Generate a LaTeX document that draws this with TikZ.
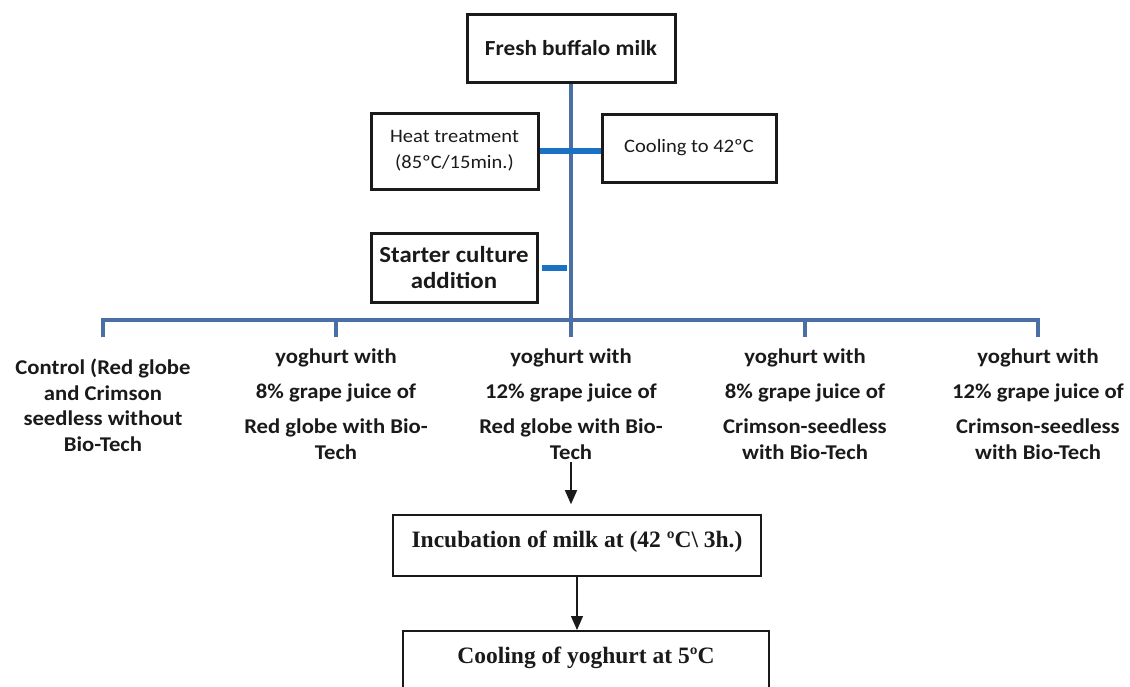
\documentclass[tikz,border=0pt]{standalone}
\usepackage{fontspec}
\setmainfont{Carlito}
\newfontfamily\calfont[FakeStretch=1.08]{Carlito}
\newfontfamily\timesfont{Liberation Serif}
\usetikzlibrary{arrows.meta, positioning, calc}
\definecolor{flowSteel}{HTML}{4A6FA5}
\definecolor{flowBlue}{HTML}{1A72C4}
\definecolor{flowInk}{HTML}{1A1A1A}

\begin{document}
\begin{tikzpicture}[x=1pt, y=-1pt,
  every node/.style={align=center, text=flowInk},
  stage/.style={draw=flowInk, line width=3pt, rectangle, inner sep=0pt},
  process/.style={draw=flowInk, line width=1.6pt, rectangle, inner sep=0pt,
    font=\timesfont\bfseries\fontsize{23.5}{28}\selectfont},
  trunk/.style={flowSteel, line width=4pt},
  tick/.style={flowBlue, line width=6pt},
  branch/.style={font=\calfont\bfseries\fontsize{21}{26}\selectfont, inner sep=0pt, anchor=north},
  flow/.style={-{Triangle[length=14pt,width=12pt]}, line width=1.3pt, flowInk}
]
  \useasboundingbox (0,0) rectangle (1130,686);
  \clip (0,0) rectangle (1130,686);

  \node[stage, minimum width=208, minimum height=68,
    font=\calfont\bfseries\fontsize{21.5}{26}\selectfont] (milk) at (571,48) {Fresh buffalo milk};
  \node[stage, minimum width=167, minimum height=76,
    font=\calfont\fontsize{19}{26}\selectfont] (heat) at (454.5,151) {Heat treatment\\(85ºC/15min.)};
  \node[stage, minimum width=174, minimum height=68,
    font=\calfont\fontsize{19}{26}\selectfont] (cool) at (689,148) {Cooling to 42ºC};
  \node[stage, minimum width=166, minimum height=69,
    font=\calfont\bfseries\fontsize{23}{26}\selectfont] (starter) at (454,268) {Starter culture\\addition};

  \coordinate (bus) at (571,320);
  \foreach \n/\x in {1/103,2/336,3/571,4/805,5/1038}
    \coordinate (drop\n) at (\x,337);

  \draw[trunk] (milk.south) -- (bus);
  \draw[trunk] (drop1) -- (drop1 |- bus) -- (drop5 |- bus) -- (drop5);
  \foreach \n in {2,3,4}
    \draw[trunk] (drop\n) -- (drop\n |- bus);
  \draw[tick] (heat.east) -- (heat.east -| cool.west);
  \draw[tick] ([xshift=3pt]starter.east) -- ([xshift=-4pt]starter.east -| milk.south);

  \node[branch, font=\calfont\bfseries\fontsize{21}{25.5}\selectfont] (ctrl) at (103,359)
    {Control (Red globe\\and Crimson\\seedless without\\Bio-Tech};
  \node[branch] (rg8) at (336,349) {yoghurt with\\[9pt]8\% grape juice of\\[9pt]Red globe with Bio-\\Tech};
  \node[branch] (rg12) at (571,349) {yoghurt with\\[9pt]12\% grape juice of\\[9pt]Red globe with Bio-\\Tech};
  \node[branch] (cs8) at (805,349) {yoghurt with\\[9pt]8\% grape juice of\\[9pt]Crimson-seedless\\with Bio-Tech};
  \node[branch] (cs12) at (1038,349) {yoghurt with\\[9pt]12\% grape juice of\\[9pt]Crimson-seedless\\with Bio-Tech};

  \node[process, minimum width=368, minimum height=61, text height=16pt, text depth=12pt]
    (incub) at (577,545.5) {Incubation of milk at (42 ºC\textbackslash{} 3h.)};
  \node[process, anchor=north, minimum width=366, minimum height=66, text height=16pt, text depth=16pt]
    (chill) at (586,630) {Cooling of yoghurt at 5ºC};

  \draw[flow, shorten >=10pt] ([yshift=-2pt]rg12.south) -- (rg12.south |- incub.north);
  \draw[flow] (incub.south) -- (incub.south |- chill.north);
\end{tikzpicture}
\end{document}
